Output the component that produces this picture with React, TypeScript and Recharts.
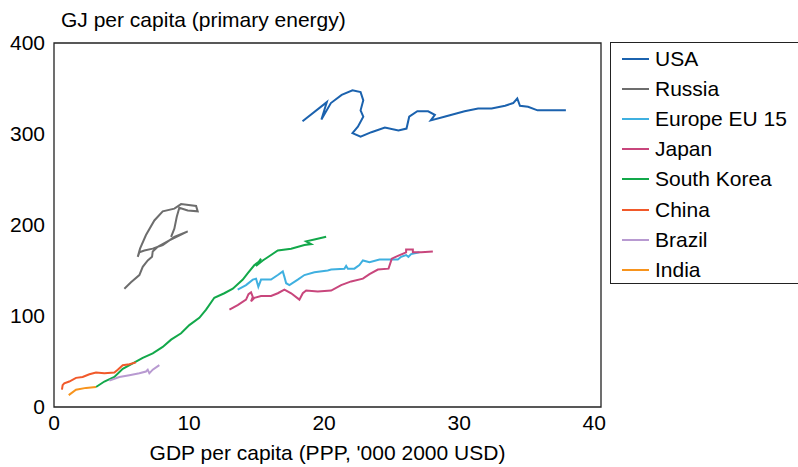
import React from "react";
import { LineChart, Line, XAxis, YAxis, ReferenceArea } from "recharts";

// GDP per capita ('000 2000 USD, PPP) and primary energy per capita (GJ)
const usaGdp = [18.4, 20.2, 19.8, 20.5, 21.3, 22.1, 22.7, 22.9, 22.7, 22.9, 22.5, 22.1, 22.7, 23.5, 24.5, 25.5, 26.1, 26.3, 26.9, 27.7, 28.2, 27.9, 28.9, 30.4, 31.4, 32.4, 33.4, 34.0, 34.3, 34.5, 35.1, 35.8, 37.9];
const usaEnergy = [314, 335, 316, 334, 343, 348, 346, 337, 326, 319, 308, 301, 297, 302, 307, 304, 306, 319, 325, 325, 321, 315, 319, 325, 328, 328, 331, 334, 339, 331, 330, 326, 326];

const russiaGdp = [5.21, 5.7, 6.32, 6.57, 6.94, 7.26, 7.31, 7.68, 8.54, 9.9, 8.91, 8.05, 7.31, 6.69, 6.32, 6.2, 6.37, 6.81, 7.43, 8.05, 8.91, 9.41, 10.52, 10.64, 9.9, 9.28, 9.09, 8.91, 8.67];
const russiaEnergy = [130, 137, 145, 154, 161, 165, 171, 176, 183, 193, 187, 178, 174, 172, 170, 165, 174, 189, 205, 215, 218, 223, 221, 215, 216, 219, 209, 196, 187];

const euGdp = [13.6, 14.22, 14.72, 14.96, 15.13, 15.33, 15.7, 16.07, 16.57, 16.94, 17.06, 17.19, 17.43, 18.05, 18.54, 19.28, 20.27, 20.52, 21.5, 21.63, 21.76, 22.24, 22.61, 22.87, 23.36, 24.1, 24.84, 25.46, 25.7, 26.07, 26.24, 26.44, 27.06];
const euEnergy = [129, 134, 140, 141, 132, 140, 140, 140, 145, 149, 143, 136, 134, 140, 145, 148, 150, 151, 152, 155, 152, 152, 156, 161, 159, 162, 162, 162, 165, 167, 165, 168, 170];

const japanGdp = [12.99, 13.6, 14.22, 14.4, 14.59, 14.72, 14.59, 14.84, 15.33, 16.07, 16.57, 17.06, 17.56, 18.17, 18.42, 18.67, 19.53, 20.52, 21.26, 22.0, 22.87, 23.36, 23.98, 24.77, 25.01, 25.46, 26.07, 26.07, 26.57, 26.57, 27.19, 28.05];
const japanEnergy = [107, 112, 118, 124, 126, 121, 116, 120, 122, 122, 125, 129, 125, 118, 125, 128, 127, 128, 134, 138, 141, 146, 151, 152, 163, 166, 170, 173, 173, 170, 170, 171];

const koreaGdp = [3.11, 3.73, 4.47, 5.09, 5.83, 6.57, 7.31, 8.05, 8.67, 9.41, 10.02, 10.76, 11.26, 11.87, 12.61, 13.24, 13.98, 14.35, 14.84, 15.21, 15.33, 14.95, 15.46, 16.07, 16.57, 17.56, 18.54, 19.04, 18.67, 19.28, 20.15];
const koreaEnergy = [22, 28, 33, 42, 48, 54, 59, 66, 74, 81, 90, 98, 107, 120, 125, 130, 140, 147, 156, 160, 163, 155, 161, 167, 172, 174, 178, 179, 182, 184, 187];

const chinaGdp = [0.59, 0.64, 0.76, 1.13, 1.63, 2.12, 2.62, 3.11, 3.73, 4.47, 4.72, 5.09, 5.58, 6.07];
const chinaEnergy = [19, 24, 26, 28, 32, 33, 36, 38, 37, 38, 41, 46, 47, 49];

const brazilGdp = [4.1, 4.84, 5.58, 6.32, 6.81, 6.94, 7.06, 7.31, 7.8];
const brazilEnergy = [29, 33, 35, 37, 39, 41, 37, 41, 46];

const indiaGdp = [1.09, 1.63, 2.37, 3.11];
const indiaEnergy = [13, 19, 21, 22];

const xTicks = [0, 10, 20, 30, 40];
const yTicks = [0, 100, 200, 300, 400];

const toPoints = (gdp: number[], energy: number[]) =>
  gdp.map((g, i) => ({ gdp: g, energy: energy[i] }));

const series = [
  { name: "USA", color: "#1b62ae", points: toPoints(usaGdp, usaEnergy) },
  { name: "Russia", color: "#6d6d6d", points: toPoints(russiaGdp, russiaEnergy) },
  { name: "Europe EU 15", color: "#3fb0e0", points: toPoints(euGdp, euEnergy) },
  { name: "Japan", color: "#c8467c", points: toPoints(japanGdp, japanEnergy) },
  { name: "South Korea", color: "#12a84a", points: toPoints(koreaGdp, koreaEnergy) },
  { name: "China", color: "#f1592a", points: toPoints(chinaGdp, chinaEnergy) },
  { name: "Brazil", color: "#b89ad1", points: toPoints(brazilGdp, brazilEnergy) },
  { name: "India", color: "#f7941d", points: toPoints(indiaGdp, indiaEnergy) },
];

const font = "'Liberation Sans', Arial, sans-serif";
const fs = 21;

const App: React.FC = () => {
  return (
    <div style={{ position: "absolute", left: 0, top: 0, width: 798, height: 467, fontFamily: font }}>
      <div style={{ position: "absolute", left: 61, top: 7, fontSize: fs, lineHeight: "26px", color: "#000", whiteSpace: "nowrap" }}>
        GJ per capita (primary energy)
      </div>
      <LineChart
        width={798}
        height={467}
        margin={{ top: 43, right: 197, bottom: 0, left: 0 }}
      >
        <XAxis
          dataKey="gdp"
          type="number"
          domain={[0, 40.5]}
          ticks={xTicks}
          allowDataOverflow
          axisLine={false}
          tickLine={false}
          tickSize={0}
          tickMargin={8}
          height={60}
          tick={{ fill: "#000", fontSize: fs, fontFamily: font }}
          label={{
            value: "GDP per capita (PPP, '000 2000 USD)",
            position: "insideBottom",
            offset: 7,
            fill: "#000",
            fontSize: fs,
            fontFamily: font,
          }}
        />
        <YAxis
          dataKey="energy"
          type="number"
          domain={[0, 400]}
          ticks={yTicks}
          allowDataOverflow
          axisLine={false}
          tickLine={false}
          tickSize={0}
          tickMargin={9}
          width={54}
          tick={{ fill: "#000", fontSize: fs, fontFamily: font }}
        />
        <ReferenceArea
          x1={0}
          x2={40.5}
          y1={0}
          y2={400}
          fill="none"
          stroke="#222"
          strokeWidth={1.3}
          fillOpacity={0}
        />
        {series.map((s) => (
          <Line
            key={s.name}
            data={s.points}
            dataKey="energy"
            name={s.name}
            type="linear"
            stroke={s.color}
            strokeWidth={2}
            dot={false}
            activeDot={false}
            isAnimationActive={false}
          />
        ))}
      </LineChart>
      <div
        style={{
          position: "absolute",
          left: 610,
          top: 42,
          width: 200,
          height: 242,
          border: "1.3px solid #222",
          boxSizing: "border-box",
        }}
      >
        {series.map((s, i) => (
          <div
            key={s.name}
            style={{
              position: "absolute",
              left: 11,
              top: 3 + i * 30.1,
              height: 26,
              display: "flex",
              alignItems: "center",
              fontSize: fs,
              color: "#000",
              whiteSpace: "nowrap",
            }}
          >
            <span style={{ display: "inline-block", width: 27, height: 2, background: s.color, marginRight: 6 }} />
            {s.name}
          </div>
        ))}
      </div>
    </div>
  );
};

export default App;
